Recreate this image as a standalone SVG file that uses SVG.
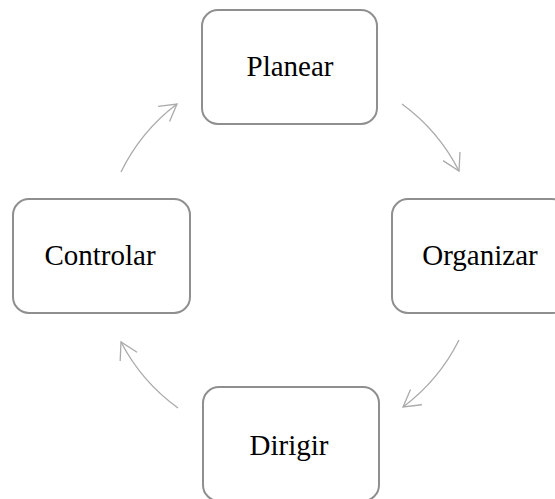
<svg xmlns="http://www.w3.org/2000/svg" width="555" height="499" viewBox="0 0 555 499">
<style>
.box{fill:#fff;stroke:#8f8f8f;stroke-width:2}
.lbl{font-family:"Liberation Serif","Times New Roman",serif;font-size:29px;fill:#000;text-anchor:middle}
.arc{fill:none;stroke:#aaa;stroke-width:1.3;marker-end:url(#ah)}
</style>
<defs>
<marker id="ah" markerUnits="userSpaceOnUse" markerWidth="20" markerHeight="22" viewBox="-1 -11 20 22" refX="16.5" refY="0" orient="auto">
<path d="M0,-9.5 L16.5,0 L0,9.5" fill="none" stroke="#aaa" stroke-width="1.3"/>
</marker>
</defs>
<rect width="555" height="499" fill="#fff"/>
<g id="connectors">
<path class="arc" d="M402,104 A189,189 0 0 1 459,171"/>
<path class="arc" d="M459,340 A189,189 0 0 1 403,407"/>
<path class="arc" d="M178,408 A189,189 0 0 1 121,342"/>
<path class="arc" d="M121,172 A189,189 0 0 1 177,104"/>
</g>
<g id="planear"><rect class="box" x="202" y="10" width="175" height="114" rx="16"/><text class="lbl" x="290" y="76">Planear</text></g>
<g id="organizar"><rect class="box" x="392" y="199" width="176" height="114" rx="16"/><text class="lbl" x="480" y="265">Organizar</text></g>
<g id="dirigir"><rect class="box" x="203" y="387" width="176" height="114" rx="16"/><text class="lbl" x="289" y="455">Dirigir</text></g>
<g id="controlar"><rect class="box" x="13" y="199" width="177" height="114" rx="16"/><text class="lbl" x="100" y="265">Controlar</text></g>
</svg>
